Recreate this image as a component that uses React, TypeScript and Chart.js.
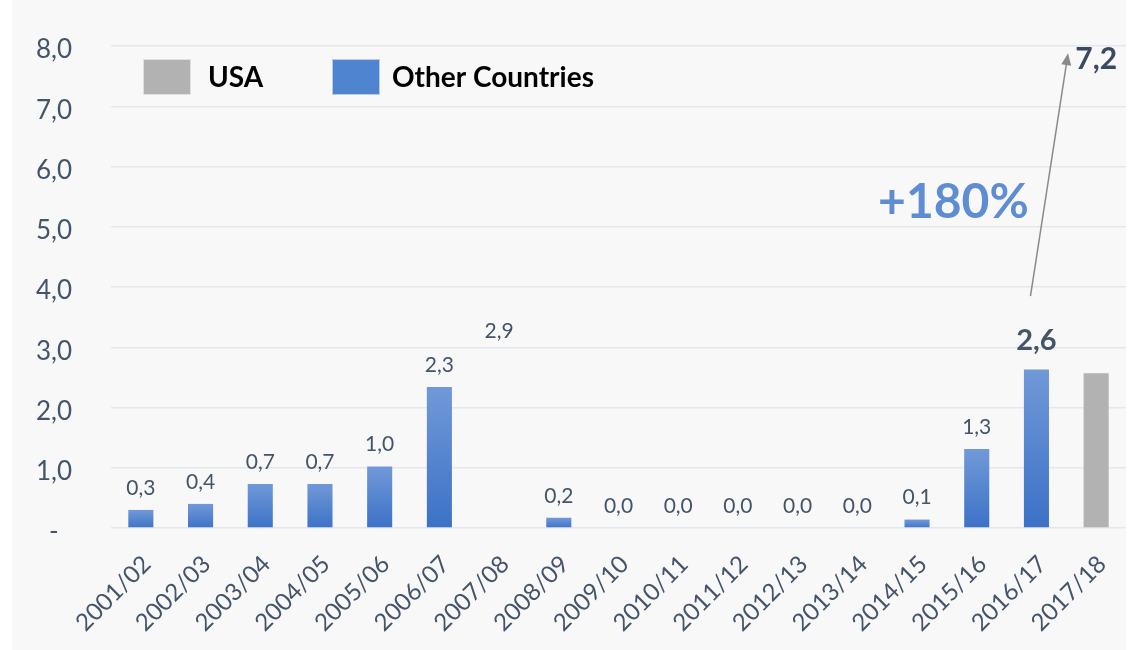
import React, { useEffect, useRef } from 'react';
import { Chart, registerables } from 'chart.js';

Chart.register(...registerables);

const seasons = [
  '2001/02', '2002/03', '2003/04', '2004/05', '2005/06', '2006/07', '2007/08', '2008/09', '2009/10',
  '2010/11', '2011/12', '2012/13', '2013/14', '2014/15', '2015/16', '2016/17', '2017/18',
];
const otherCountries = [0.3, 0.4, 0.73, 0.73, 1.02, 2.34, 2.9, 0.17, 0, 0, 0, 0, 0, 0.14, 1.31, 2.63, null];
const usa = [null, null, null, null, null, null, null, null, null, null, null, null, null, null, null, null, 2.57];
const yTicks = [0, 1, 2, 3, 4, 5, 6, 7, 8];
const hiddenBarSeason = '2007/08';
const highlightSeason = '2016/17';
const projectionValue = 7.2;
const growthLabel = '+180%';

const fmt = (v: number) => v.toFixed(1).replace('.', ',');
const FONT = 'Lato, "Open Sans", sans-serif';
const TEXT = '#44546a';
const CLEAR = 'rgba(0,0,0,0)';

const bgPlugin = {
  id: 'bg',
  beforeDraw(chart: any) {
    const { ctx, width, height } = chart;
    ctx.save();
    ctx.fillStyle = '#ffffff';
    ctx.fillRect(0, 0, width, height);
    ctx.fillStyle = '#f8f8f8';
    ctx.fillRect(12, 0, width - 22, height);
    ctx.restore();
  },
};

const overlayPlugin = {
  id: 'overlay',
  afterDraw(chart: any) {
    const { ctx } = chart;
    const xs = chart.scales.x;
    const ys = chart.scales.y;
    ctx.save();
    // data labels
    const meta = chart.getDatasetMeta(1);
    meta.data.forEach((bar: any, i: number) => {
      const v = otherCountries[i];
      if (v === null || v === undefined) return;
      const hl = seasons[i] === highlightSeason;
      ctx.fillStyle = TEXT;
      ctx.textAlign = 'center';
      ctx.textBaseline = 'middle';
      ctx.font = hl ? `bold 29px ${FONT}` : `21px ${FONT}`;
      const top = ys.getPixelForValue(v);
      ctx.fillText(fmt(v), bar.x, top - (hl ? 29 : 22));
    });
    // legend
    const items = chart.data.datasets.map((d: any) => ({ label: d.label, color: d.legendColor }));
    const boxX = [143, 332];
    const textX = [208, 392];
    const ly = 59;
    items.forEach((it: any, k: number) => {
      const lx = boxX[k];
      ctx.fillStyle = it.color;
      ctx.fillRect(lx, ly, 48, 36);
      ctx.strokeStyle = 'rgba(255,255,255,0.6)';
      ctx.lineWidth = 1;
      ctx.strokeRect(lx + 0.5, ly + 0.5, 47, 35);
      ctx.fillStyle = '#000000';
      ctx.font = `bold 28px ${FONT}`;
      ctx.textAlign = 'left';
      ctx.textBaseline = 'middle';
      ctx.fillText(it.label, textX[k], ly + 19);
    });
    // arrow
    const hi = seasons.indexOf(highlightSeason);
    const x0 = xs.getPixelForValue(hi - 0.1);
    const y0 = ys.getPixelForValue(3.85);
    const x1 = xs.getPixelForValue(hi + 0.53);
    const y1 = ys.getPixelForValue(7.88);
    ctx.strokeStyle = '#8a8a8a';
    ctx.fillStyle = '#8a8a8a';
    ctx.lineWidth = 1.5;
    const ang = Math.atan2(y1 - y0, x1 - x0);
    const hl = 12;
    ctx.beginPath();
    ctx.moveTo(x0, y0);
    ctx.lineTo(x1 - Math.cos(ang) * hl * 0.8, y1 - Math.sin(ang) * hl * 0.8);
    ctx.stroke();
    ctx.beginPath();
    ctx.moveTo(x1, y1);
    ctx.lineTo(x1 - hl * Math.cos(ang) + 5 * Math.sin(ang), y1 - hl * Math.sin(ang) - 5 * Math.cos(ang));
    ctx.lineTo(x1 - hl * Math.cos(ang) - 5 * Math.sin(ang), y1 - hl * Math.sin(ang) + 5 * Math.cos(ang));
    ctx.closePath();
    ctx.fill();
    // projection label
    ctx.fillStyle = '#3b4a60';
    ctx.font = `bold 30px ${FONT}`;
    ctx.textAlign = 'center';
    ctx.textBaseline = 'middle';
    ctx.fillText(fmt(projectionValue), xs.getPixelForValue(seasons.length - 1), ys.getPixelForValue(7.78));
    // growth label
    ctx.fillStyle = '#5f8dd3';
    ctx.font = `bold 48px ${FONT}`;
    ctx.fillText(growthLabel, xs.getPixelForValue(hi - 1.39), ys.getPixelForValue(5.4));
    ctx.restore();
  },
};

export default function App() {
  const ref = useRef<HTMLCanvasElement | null>(null);
  useEffect(() => {
    document.body.style.margin = '0';
    const canvas = ref.current!;
    const barGradient = (c: any) => {
      const chart = c.chart;
      if (seasons[c.dataIndex] === hiddenBarSeason) return CLEAR;
      const ys = chart.scales && chart.scales.y;
      if (!chart.chartArea || !ys || c.raw == null) return '#4a7fcf';
      const top = ys.getPixelForValue(c.raw);
      const bottom = ys.getPixelForValue(0);
      const g = chart.ctx.createLinearGradient(0, top, 0, bottom + 1);
      g.addColorStop(0, '#7199d8');
      g.addColorStop(1, '#3b71c6');
      return g;
    };
    const chart = new Chart(canvas, {
      type: 'bar',
      data: {
        labels: seasons,
        datasets: [
          {
            label: 'USA',
            data: usa,
            backgroundColor: '#b2b2b2',
            legendColor: '#b2b2b2',
            grouped: false,
            barPercentage: 1,
            categoryPercentage: 0.42,
          } as any,
          {
            label: 'Other Countries',
            data: otherCountries,
            backgroundColor: barGradient,
            legendColor: '#4f84d0',
            grouped: false,
            barPercentage: 1,
            categoryPercentage: 0.42,
          } as any,
        ],
      },
      options: {
        animation: false,
        responsive: false,
        layout: { padding: { top: 46, right: 10, left: 0, bottom: 0 } },
        plugins: { legend: { display: false }, tooltip: { enabled: false } },
        scales: {
          x: {
            grid: { display: false, drawTicks: true, tickLength: 22, tickColor: CLEAR },
            border: { display: false },
            ticks: {
              color: TEXT,
              font: { family: FONT, size: 24 },
              minRotation: 45,
              maxRotation: 45,
              autoSkip: false,
              padding: 0,
              labelOffset: 6,
            },
            afterFit: (s: any) => { s.height = 122; },
          },
          y: {
            min: 0,
            max: 8,
            afterBuildTicks: (s: any) => { s.ticks = yTicks.map((v) => ({ value: v })); },
            grid: { color: '#e3e7ee', lineWidth: 1.5, drawTicks: true, tickLength: 39, tickColor: CLEAR },
            border: { display: false },
            ticks: {
              color: TEXT,
              font: { family: FONT, size: 26 },
              padding: 0,
              labelOffset: 4,
              callback: (v: any) => (Number(v) === 0 ? '-  ' : fmt(Number(v))),
            },
            afterFit: (s: any) => { s.width = 111; },
          },
        },
      },
      plugins: [bgPlugin, overlayPlugin],
    });
    return () => chart.destroy();
  }, []);
  return <canvas ref={ref} width={1136} height={650} style={{ display: 'block' }} />;
}
